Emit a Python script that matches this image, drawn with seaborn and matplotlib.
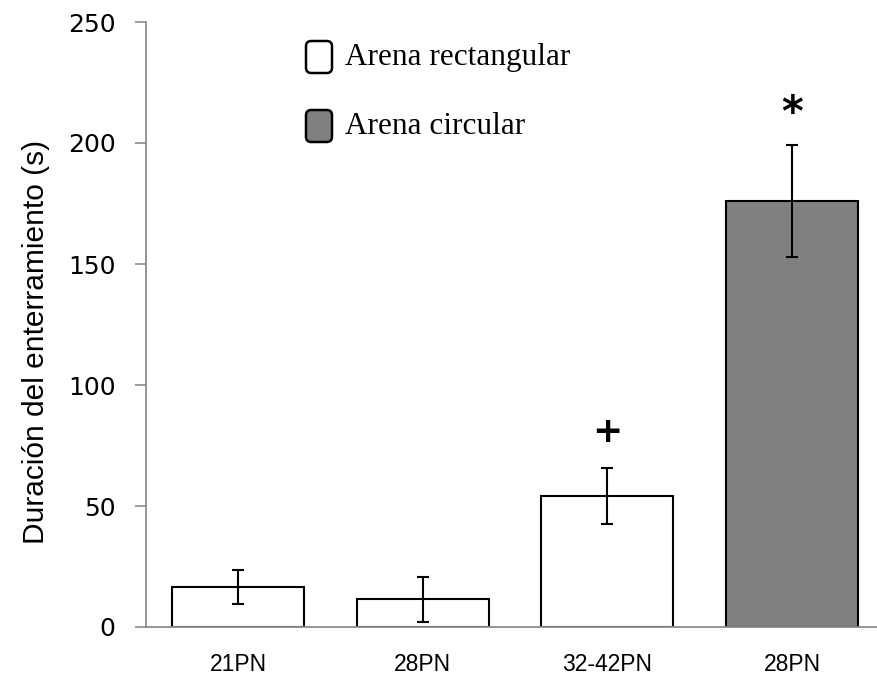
import matplotlib
matplotlib.use("Agg")
import matplotlib.pyplot as plt
import seaborn as sns
import pandas as pd
from matplotlib.patches import FancyBboxPatch

categories = ["21PN", "28PN", "32-42PN", "28PN"]
arena = ["Arena rectangular", "Arena rectangular", "Arena rectangular", "Arena circular"]
means = [16.5, 11.5, 54.0, 176.0]
errors = [7.0, 9.3, 11.5, 23.0]
marks = ["", "", "+", "*"]
mark_y = [None, None, 80.5, 212.0]
yticks = [0, 50, 100, 150, 200, 250]

sns.set_theme(style="white")
plt.rcParams['font.family'] = ['Liberation Sans', 'DejaVu Sans']
plt.rcParams['text.color'] = 'black'
plt.rcParams['axes.labelcolor'] = 'black'
plt.rcParams['xtick.labelcolor'] = 'black'
plt.rcParams['ytick.labelcolor'] = 'black'

df = pd.DataFrame({"pos": list(range(len(categories))), "label": categories,
                   "arena": arena, "mean": means})

fig = plt.figure(figsize=(8.77, 6.79), dpi=100)
ax = fig.add_axes([146/877, 1-627/679, 1-146/877, (627-22)/679])

palette = {"Arena rectangular": "#ffffff", "Arena circular": "#808080"}
sns.barplot(data=df, x="pos", y="mean", hue="arena", palette=palette, dodge=False,
            width=0.715, edgecolor="black", linewidth=1.5, legend=False, ax=ax, errorbar=None)
ax.errorbar(df["pos"], df["mean"], yerr=errors, fmt="none", ecolor="black",
            elinewidth=1.5, capsize=4.3, capthick=1.5)

for i, (m, yy) in enumerate(zip(marks, mark_y)):
    if m == "+":
        ax.text(i, yy, m, ha="center", va="center", fontsize=26, fontweight="bold",
                family="DejaVu Sans", color="black")
    elif m == "*":
        ax.text(i, yy, m, ha="center", va="center", fontsize=30, fontweight="bold",
                family="DejaVu Sans", color="black")

ax.set_xlim(-0.5, 3.46)
ax.set_ylim(0, 250)
ax.set_yticks(yticks)
ax.set_yticklabels([str(t) for t in yticks], fontsize=18, family="DejaVu Sans")
ax.set_xticks(range(len(categories)))
ax.set_xticklabels(categories, fontsize=16.5, family=["Liberation Sans Narrow", "Liberation Sans"])
ax.set_xticks([-0.5, 0.5, 1.5, 2.5], minor=True)
ax.tick_params(axis="x", which="major", length=0, pad=19)
ax.tick_params(axis="x", which="minor", length=7, width=1.2, color="#8c8c8c", direction="out")
ax.tick_params(axis="y", which="major", length=8, width=1.2, color="#8c8c8c", direction="out",
               left=True, pad=14)
ax.set_xlabel("")
ax.set_ylabel("Duración del enterramiento (s)", fontsize=21.5)
ax.yaxis.set_label_coords(-0.131, 0.472)

for s in ["top", "right"]:
    ax.spines[s].set_visible(False)
for s in ["left", "bottom"]:
    ax.spines[s].set_color("#8c8c8c")
    ax.spines[s].set_linewidth(1.3)

# legend
leg_items = ["Arena rectangular", "Arena circular"]
leg_y = [57, 126]
for name, py in zip(leg_items, leg_y):
    x0, y0 = 306/877, 1 - (py+16)/679
    w, h = 26/877, 32/679
    box = FancyBboxPatch((x0, y0), w, h, boxstyle="round,pad=0,rounding_size=0.006",
                         transform=fig.transFigure, facecolor=palette[name],
                         edgecolor="black", linewidth=1.8, mutation_aspect=877/679)
    fig.patches.append(box)
    fig.text(345/877, 1 - py/679, name, ha="left", va="center", fontsize=22.5,
             family="Liberation Serif")

fig.savefig("out.png", dpi=100)
